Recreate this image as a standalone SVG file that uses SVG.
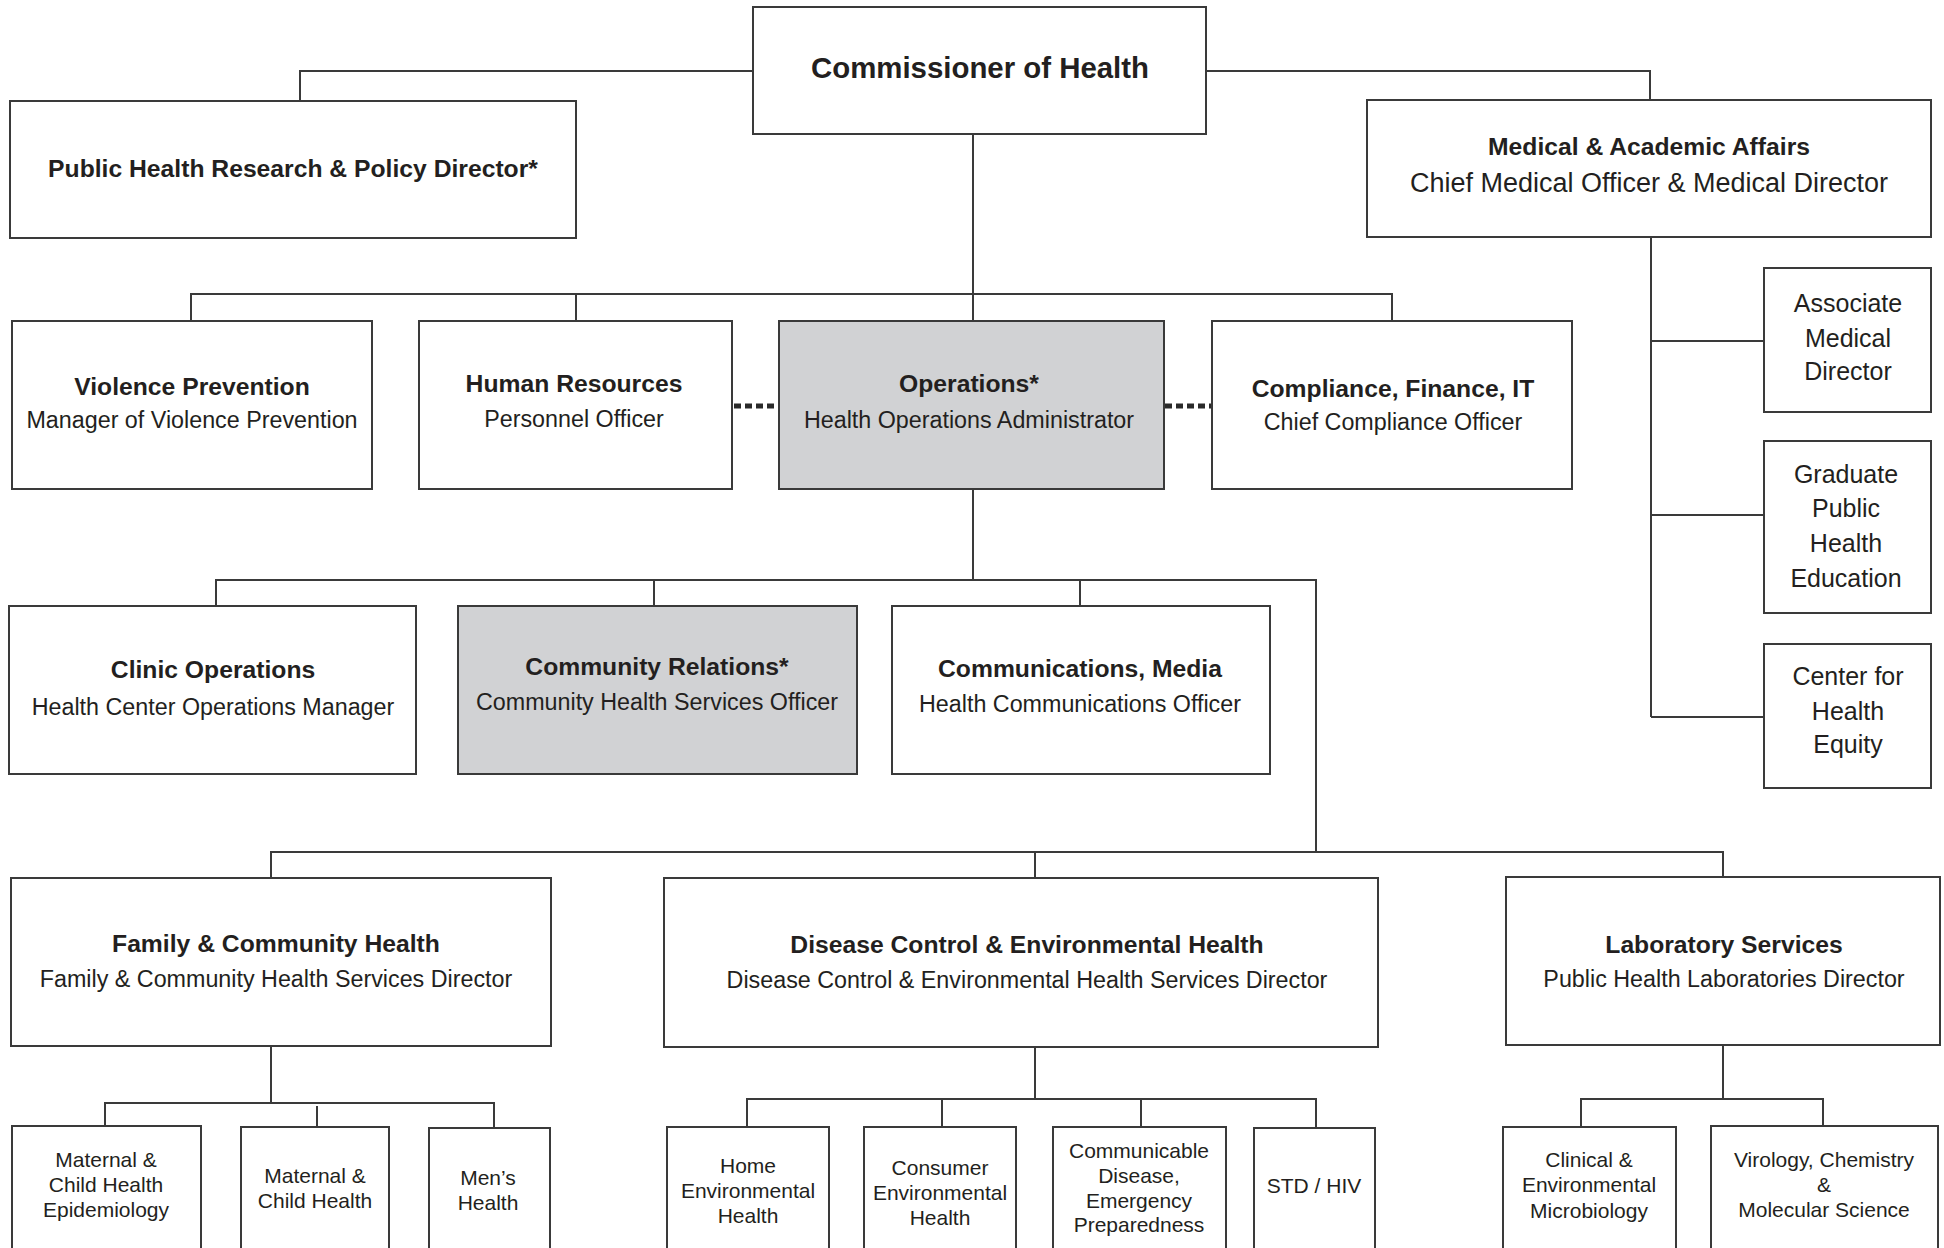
<svg xmlns="http://www.w3.org/2000/svg" width="1944" height="1248" viewBox="0 0 1944 1248">
<style>
.box{fill:#fff;stroke:#3a3a3a;stroke-width:2}
.gray{fill:#d1d2d4}
.ln{fill:none;stroke:#3a3a3a;stroke-width:2}
.dot{fill:none;stroke:#2a2a2a;stroke-width:5;stroke-dasharray:7 4}
text{font-family:"Liberation Sans",Arial,sans-serif;fill:#231f20;text-anchor:middle}
.t{font-weight:bold;font-size:24.7px}
.s{font-size:23.3px}
.r{font-size:25px}
.b{font-size:21px}
</style>
<rect width="1944" height="1248" fill="#fff"/>
<g id="connectors">
<path class="ln" d="M753 71H300V101"/>
<path class="ln" d="M1206 71H1650V100"/>
<path class="ln" d="M973 134V321"/>
<path class="ln" d="M191 321V294H1392V321"/>
<path class="ln" d="M576 294V321"/>
<path class="ln" d="M1651 237V717"/>
<path class="ln" d="M1651 341H1764M1651 515H1764M1651 717H1764"/>
<path class="dot" d="M734 406H778"/>
<path class="dot" d="M1165 406H1211"/>
<path class="ln" d="M973 489V580"/>
<path class="ln" d="M216 606V580H1316V852"/>
<path class="ln" d="M654 580V606M1080 580V606"/>
<path class="ln" d="M271 878V852H1723V878"/>
<path class="ln" d="M1035 852V878"/>
<path class="ln" d="M271 1046V1103"/>
<path class="ln" d="M105 1126V1103H494V1128"/>
<path class="ln" d="M317 1106V1127"/>
<path class="ln" d="M1035 1047V1100"/>
<path class="ln" d="M747 1127V1099H1316V1128"/>
<path class="ln" d="M942 1099V1127M1141 1099V1127"/>
<path class="ln" d="M1723 1045V1099"/>
<path class="ln" d="M1581 1127V1099H1823V1126"/>
</g>
<g id="commissioner"><rect class="box" x="753" y="7" width="453" height="127"/><text x="980" y="78" style="font-weight:bold;font-size:29.4px">Commissioner of Health</text></g>
<g id="phr"><rect class="box" x="10" y="101" width="566" height="137"/><text class="t" x="293" y="177">Public Health Research &amp; Policy Director*</text></g>
<g id="maa"><rect class="box" x="1367" y="100" width="564" height="137"/><text class="t" x="1649" y="155">Medical &amp; Academic Affairs</text><text x="1649" y="192" style="font-size:27px">Chief Medical Officer &amp; Medical Director</text></g>
<g id="vp"><rect class="box" x="12" y="321" width="360" height="168"/><text class="t" x="192" y="395">Violence Prevention</text><text class="s" x="192" y="428">Manager of Violence Prevention</text></g>
<g id="hr"><rect class="box" x="419" y="321" width="313" height="168"/><text class="t" x="574" y="392">Human Resources</text><text class="s" x="574" y="427">Personnel Officer</text></g>
<g id="ops"><rect class="box gray" x="779" y="321" width="385" height="168"/><text class="t" x="969" y="392">Operations*</text><text class="s" x="969" y="428">Health Operations Administrator</text></g>
<g id="cfit"><rect class="box" x="1212" y="321" width="360" height="168"/><text class="t" x="1393" y="397">Compliance, Finance, IT</text><text class="s" x="1393" y="430">Chief Compliance Officer</text></g>
<g id="amd"><rect class="box" x="1764" y="268" width="167" height="144"/><text class="r" x="1848" y="312">Associate</text><text class="r" x="1848" y="347">Medical</text><text class="r" x="1848" y="380">Director</text></g>
<g id="gphe"><rect class="box" x="1764" y="441" width="167" height="172"/><text class="r" x="1846" y="483">Graduate</text><text class="r" x="1846" y="517">Public</text><text class="r" x="1846" y="552">Health</text><text class="r" x="1846" y="587">Education</text></g>
<g id="che"><rect class="box" x="1764" y="644" width="167" height="144"/><text class="r" x="1848" y="685">Center for</text><text class="r" x="1848" y="720">Health</text><text class="r" x="1848" y="753">Equity</text></g>
<g id="clinic"><rect class="box" x="9" y="606" width="407" height="168"/><text class="t" x="213" y="678">Clinic Operations</text><text class="s" x="213" y="715">Health Center Operations Manager</text></g>
<g id="commrel"><rect class="box gray" x="458" y="606" width="399" height="168"/><text class="t" x="657" y="675">Community Relations*</text><text class="s" x="657" y="710">Community Health Services Officer</text></g>
<g id="commmedia"><rect class="box" x="892" y="606" width="378" height="168"/><text class="t" x="1080" y="677">Communications, Media</text><text class="s" x="1080" y="712">Health Communications Officer</text></g>
<g id="fch"><rect class="box" x="11" y="878" width="540" height="168"/><text class="t" x="276" y="952">Family &amp; Community Health</text><text class="s" x="276" y="987">Family &amp; Community Health Services Director</text></g>
<g id="dceh"><rect class="box" x="664" y="878" width="714" height="169"/><text class="t" x="1027" y="953">Disease Control &amp; Environmental Health</text><text class="s" x="1027" y="988">Disease Control &amp; Environmental Health Services Director</text></g>
<g id="lab"><rect class="box" x="1506" y="877" width="434" height="168"/><text class="t" x="1724" y="953">Laboratory Services</text><text class="s" x="1724" y="987">Public Health Laboratories Director</text></g>
<g id="mche"><rect class="box" x="12" y="1126" width="189" height="140"/><text class="b" x="106" y="1167">Maternal &amp;</text><text class="b" x="106" y="1192">Child Health</text><text class="b" x="106" y="1217">Epidemiology</text></g>
<g id="mch"><rect class="box" x="241" y="1127" width="148" height="140"/><text class="b" x="315" y="1183">Maternal &amp;</text><text class="b" x="315" y="1208">Child Health</text></g>
<g id="mens"><rect class="box" x="429" y="1128" width="121" height="140"/><text class="b" x="488" y="1185">Men’s</text><text class="b" x="488" y="1210">Health</text></g>
<g id="heh"><rect class="box" x="667" y="1127" width="162" height="140"/><text class="b" x="748" y="1173">Home</text><text class="b" x="748" y="1198">Environmental</text><text class="b" x="748" y="1223">Health</text></g>
<g id="ceh"><rect class="box" x="864" y="1127" width="152" height="140"/><text class="b" x="940" y="1175">Consumer</text><text class="b" x="940" y="1200">Environmental</text><text class="b" x="940" y="1225">Health</text></g>
<g id="cdep"><rect class="box" x="1053" y="1127" width="173" height="140"/><text class="b" x="1139" y="1158">Communicable</text><text class="b" x="1139" y="1183">Disease,</text><text class="b" x="1139" y="1208">Emergency</text><text class="b" x="1139" y="1232">Preparedness</text></g>
<g id="std"><rect class="box" x="1254" y="1128" width="121" height="140"/><text class="b" x="1314" y="1193">STD / HIV</text></g>
<g id="cem"><rect class="box" x="1503" y="1127" width="173" height="140"/><text class="b" x="1589" y="1167">Clinical &amp;</text><text class="b" x="1589" y="1192">Environmental</text><text class="b" x="1589" y="1218">Microbiology</text></g>
<g id="vcms"><rect class="box" x="1711" y="1126" width="227" height="140"/><text class="b" x="1824" y="1167">Virology, Chemistry</text><text class="b" x="1824" y="1192">&amp;</text><text class="b" x="1824" y="1217">Molecular Science</text></g>
</svg>
